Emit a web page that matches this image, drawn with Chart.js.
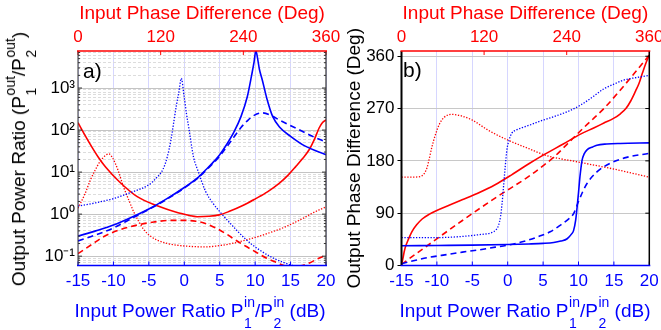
<!DOCTYPE html>
<html><head><meta charset="utf-8">
<script src="https://cdn.jsdelivr.net/npm/chart.js@4.4.1/dist/chart.umd.min.js"></script>
<style>
html,body{margin:0;padding:0;background:#fff;}
body{width:661px;height:330px;position:relative;overflow:hidden;font-family:'Liberation Sans',Arial,sans-serif;}
canvas{position:absolute;top:0;}
.t{position:absolute;white-space:nowrap;font-size:19px;line-height:22px;}
.ss{display:inline-flex;flex-direction:column;vertical-align:10px;font-size:14px;line-height:21px;margin-left:0.5px;}
.ss span{display:block;}
.lab{position:absolute;font-size:21px;line-height:21px;color:#000;}
</style></head>
<body>
<canvas id="ca" width="345" height="330" style="left:0"></canvas>
<canvas id="cb" width="331" height="330" style="left:330px"></canvas>
<div class="t" style="color:#00f;left:200px;top:292px;transform:translateX(-50%)">Input Power Ratio P<span class="ss"><span>in</span><span>1</span></span>/P<span class="ss"><span>in</span><span>2</span></span> (dB)</div>
<div class="t" style="color:#00f;left:525px;top:292px;transform:translateX(-50%)">Input Power Ratio P<span class="ss"><span>in</span><span>1</span></span>/P<span class="ss"><span>in</span><span>2</span></span> (dB)</div>
<div class="t" style="color:#000;left:21px;top:159px;transform:translate(-50%,-50%) rotate(-90deg)">Output Power Ratio (P<span class="ss"><span>out</span><span>1</span></span>/P<span class="ss"><span>out</span><span>2</span></span>)</div>
<div class="lab" style="left:83px;top:60px">a)</div>
<div class="lab" style="left:403px;top:59px">b)</div>
<script>
// ---------------- tick labels ----------------
const dbTicks = [-15, -10, -5, 0, 5, 10, 15, 20];
const phaseTicks = [0, 120, 240, 360];
const ratioDecades = [0.1, 1, 10, 100, 1000];
const phaseOutTicks = [0, 90, 180, 270, 360];

// ---------------- panel a) : output power ratio ----------------
// blue curves vs input power ratio (dB)
const aBlueSolidDb = [-15,-12.5,-10,-7.5,-5,-2.5,0,2,3,4,5,6,7,8,8.9,9.5,9.85,10.1,10.35,10.6,11,11.7,12.45,13.5,15,17,20];
const aBlueSolidRatio = [0.30,0.40,0.55,0.83,1.32,2.3,4.3,7.6,11.2,16.6,26,46,89,209,630,2000,4170,7900,5000,2800,1580,525,214,115,71,42,26];
const aBlueDashedDb = [-15,-12.5,-10,-7.5,-5,-2.5,0,2,3,4,5,6,7,8,8.9,9.85,11,12.45,13.4,15.8,18,20];
const aBlueDashedRatio = [0.23,0.32,0.47,0.78,1.29,2.24,4.2,7.4,10.7,15.8,24,40,68,115,166,224,257,214,174,110,72,52];
const aBlueDottedDb = [-15,-12.5,-10,-7.5,-5,-4,-3,-2.4,-1.9,-1.47,-1.1,-0.76,-0.42,-0.05,0.3,0.65,1.3,2,3,4,5,6.5,8.7,10.5,12.5,14,15.3,17,20];
const aBlueDottedRatio = [1.55,1.86,2.34,3.3,5.0,7.1,11.7,23,56,160,400,810,1700,680,250,110,23,10,3.5,1.86,1.15,0.60,0.25,0.145,0.091,0.071,0.060,0.055,0.055];
// red curves vs input phase difference (deg)
const aRedSolidPh = [0,10,20,30,40,60,86,115,144,173,190,205,219,240,258,275,292,305,316,326,336,343,350,355,360];
const aRedSolidRatio = [150,76,40,22,13.2,5.9,2.6,1.58,1.10,0.87,0.89,0.96,1.15,1.62,2.34,3.4,5.4,8.5,13.5,21,35,59,112,151,174];
const aRedDashedPh = [0,20,37,60,86,110,134,154,171,186,200,215,229,243,258,272,287,300,311,322,336,348,360];
const aRedDashedRatio = [0.115,0.19,0.29,0.42,0.55,0.65,0.71,0.71,0.68,0.59,0.47,0.34,0.24,0.174,0.126,0.093,0.072,0.059,0.054,0.058,0.069,0.087,0.105];
const aRedDottedPh = [0,10,18,25,32,40,45,50,58,66,74,81,88,95,105,115,130,144,165,185,200,220,243,262,282,300,316,330,340,350,360];
const aRedDottedRatio = [1.38,3.0,6.5,11.2,17.8,25,27,22,11.2,4.5,2.1,1.12,0.68,0.44,0.30,0.24,0.20,0.182,0.17,0.166,0.174,0.195,0.24,0.295,0.38,0.49,0.65,0.85,1.05,1.26,1.48];

// ---------------- panel b) : output phase difference ----------------
const bBlueSolidDb = [-15,-10,-5,0,3,5,6.5,7.5,8.4,9,9.3,9.6,9.8,10,10.15,10.3,10.5,10.8,11.2,12,12.6,14,15.9,20];
const bBlueSolidDeg = [34,34.5,35,36,37,38,39.5,42,46,54,60,78,100,125,146,163,181,192,199,204,207,209,210,211];
const bBlueDashedDb = [-15,-13,-11.1,-8.5,-6.4,-4,-1.75,0,1.8,3,4.6,6,7.4,8.5,9.3,10,10.6,11.2,12.6,14.5,16.8,20];
const bBlueDashedDeg = [3,9,14,19,23,27,31.6,35,40,44,51,58,69,79,89,110,127,141,161,176,186,193];
const bBlueDottedDb = [-15,-10,-6.4,-4.1,-2.2,-1.6,-1.3,-1,-0.8,-0.56,-0.35,-0.1,0.2,0.6,1.2,2,3.2,4.5,6.5,8.5,10.3,12,13.6,15,16.4,18,20];
const bBlueDottedDeg = [48,48,50,53,57,62,69,85,106,140,170,200,216,228,233,237,242,248,256,265,276,290,304,312,319,323,327];
const bRedSolidPh = [0,2,4,6,10,15,22,30,40,52,70,88,110,136,160,185,209,235,260,280,294,308,318,326,333,340,345,350,355,360];
const bRedSolidDeg = [2,12,24,33,45,58,70,80,88,95,104,113,124,139,156,175,192,209,226,237,245,253,261,270,283,300,313,331,348,362];
const bRedDashedPh = [0,35,88,136,187,206,221,240,262,294,318,342,360];
const bRedDashedDeg = [2,32,77,116,155,172,186,208,234,270,302,336,362];
const bRedDottedPh = [0,15,27,33,37,40,44,49,55,62,73,88,103,127,156,185,211,257,308,360];
const bRedDottedDeg = [152,152,153,158,168,182,203,224,243,255,260,257,250,232,215,201,189,178,166,152];

// ---------------- helpers ----------------
const BLUE = '#0000ff', RED = '#ff0000';
const FONT = "'Liberation Sans', Arial, sans-serif";
Chart.defaults.font.family = FONT;
const supMap = {'-':'\u207B','0':'\u2070','1':'\u00B9','2':'\u00B2','3':'\u00B3','4':'\u2074','5':'\u2075','6':'\u2076','7':'\u2077','8':'\u2078','9':'\u2079'};
const isDecade = v => { const e = Math.log10(v); return Math.abs(e - Math.round(e)) < 1e-6; };
const styles = {
  solid: {borderWidth: 1.6, borderDash: []},
  dashed: {borderWidth: 1.6, borderDash: [6, 4]},
  dotted: {borderWidth: 1.3, borderDash: [1.3, 1.6]}
};
function line(xs, ys, color, style, xAxisID) {
  return Object.assign({
    data: xs.map((x, i) => ({x: x, y: ys[i]})),
    borderColor: color, xAxisID: xAxisID, yAxisID: 'y',
    pointRadius: 0, fill: false, cubicInterpolationMode: 'monotone'
  }, styles[style]);
}
const framePlugin = {
  id: 'frame',
  afterDraw(chart, args, o) {
    const ctx = chart.ctx, a = chart.chartArea;
    const L = a.left, R = a.right, T = a.top, B = a.bottom;
    const seg = (x1, y1, x2, y2, c, w) => { ctx.beginPath(); ctx.strokeStyle = c; ctx.lineWidth = w; ctx.moveTo(x1, y1); ctx.lineTo(x2, y2); ctx.stroke(); };
    ctx.save();
    const ys = chart.scales.y;
    ys.ticks.forEach(t => {
      const py = ys.getPixelForValue(t.value);
      if (py < T + 1 || py > B - 1) return;
      const major = o.log ? isDecade(t.value) : true;
      const len = major ? 4 : 2;
      if (o.innerLeft) seg(L, py, L + len, py, o.sideColor, 1);
      seg(R, py, R - len, py, o.sideColor, 1);
    });
    const xb = chart.scales.x, xt = chart.scales.xTop;
    xb.ticks.forEach(t => { const px = xb.getPixelForValue(t.value); seg(px, B, px, B - 4, BLUE, 1); });
    xt.ticks.forEach(t => { const px = xt.getPixelForValue(t.value); seg(px, T, px, T + 4, RED, 1); });
    seg(L, T, L, B, o.sideColor, o.leftWidth);
    seg(R, T, R, B, o.sideColor, o.rightWidth);
    seg(L - 1, T, R + 1, T, RED, 1.5);
    seg(L - 1, B, R + 1, B, BLUE, 1.5);
    ctx.restore();
  }
};
function xScales(topTitle) {
  return {
    x: {
      type: 'linear', position: 'bottom', min: -15, max: 20,
      afterBuildTicks: s => { s.ticks = dbTicks.map(v => ({value: v})); },
      afterFit: s => { s.height = 64.5; s.paddingLeft = 0; s.paddingRight = 0; },
      ticks: {color: BLUE, font: {size: 17}, padding: 6, autoSkip: false, maxRotation: 0, minRotation: 0},
      grid: {color: 'rgba(0,0,255,0.16)', drawTicks: false},
      border: {display: false}
    },
    xTop: {
      type: 'linear', position: 'top', min: 0, max: 360,
      afterBuildTicks: s => { s.ticks = phaseTicks.map(v => ({value: v})); },
      afterFit: s => { s.height = 51; s.paddingLeft = 0; s.paddingRight = 0; },
      ticks: {color: RED, font: {size: 17}, padding: 3, autoSkip: false, maxRotation: 0, minRotation: 0},
      grid: {drawOnChartArea: false, drawTicks: false},
      border: {display: false},
      title: {display: true, text: topTitle, color: RED, font: {size: 19}, padding: {top: 2, bottom: 0}}
    }
  };
}
const common = {
  responsive: false, animation: false,
  plugins: {legend: {display: false}, tooltip: {enabled: false}}
};

// ---------------- chart a ----------------
new Chart(document.getElementById('ca'), {
  type: 'line',
  data: {datasets: [
    line(aBlueSolidDb, aBlueSolidRatio, BLUE, 'solid', 'x'),
    line(aBlueDashedDb, aBlueDashedRatio, BLUE, 'dashed', 'x'),
    line(aBlueDottedDb, aBlueDottedRatio, BLUE, 'dotted', 'x'),
    line(aRedSolidPh, aRedSolidRatio, RED, 'solid', 'xTop'),
    line(aRedDashedPh, aRedDashedRatio, RED, 'dashed', 'xTop'),
    line(aRedDottedPh, aRedDottedRatio, RED, 'dotted', 'xTop')
  ]},
  options: Object.assign({}, common, {
    layout: {padding: {left: 0, right: 19, top: 0, bottom: 0}},
    plugins: Object.assign({}, common.plugins, {frame: {log: true, sideColor: '#333', leftWidth: 1, rightWidth: 1.2, innerLeft: true}}),
    scales: Object.assign(xScales('Input Phase Difference (Deg)'), {
      y: {
        type: 'logarithmic', min: 0.06, max: 7600,
        afterBuildTicks: s => {
          s.ticks = s.ticks.filter(t => { const m = t.value / Math.pow(10, Math.floor(Math.log10(t.value) + 1e-9)); return Math.abs(m - Math.round(m)) < 1e-6; });
        },
        afterFit: s => { s.width = 78; s.paddingTop = 0; s.paddingBottom = 0; },
        ticks: {
          color: '#000', font: {size: 17}, padding: 3, autoSkip: false,
          callback: v => {
            if (!isDecade(v)) return '';
            const e = Math.round(Math.log10(v));
            if (!ratioDecades.some(d => Math.abs(Math.log10(d) - e) < 1e-6)) return '';
            return '10' + String(e).split('').map(c => supMap[c]).join('');
          }
        },
        grid: {color: c => (c.tick && isDecade(c.tick.value)) ? '#c4c4c4' : '#dcdcdc', drawTicks: false},
        border: {display: false, dash: c => (c.tick && isDecade(c.tick.value)) ? [] : [3, 2]}
      }
    })
  }),
  plugins: [framePlugin]
});

// ---------------- chart b ----------------
new Chart(document.getElementById('cb'), {
  type: 'line',
  data: {datasets: [
    line(bBlueSolidDb, bBlueSolidDeg, BLUE, 'solid', 'x'),
    line(bBlueDashedDb, bBlueDashedDeg, BLUE, 'dashed', 'x'),
    line(bBlueDottedDb, bBlueDottedDeg, BLUE, 'dotted', 'x'),
    line(bRedSolidPh, bRedSolidDeg, RED, 'solid', 'xTop'),
    line(bRedDashedPh, bRedDashedDeg, RED, 'dashed', 'xTop'),
    line(bRedDottedPh, bRedDottedDeg, RED, 'dotted', 'xTop')
  ]},
  options: Object.assign({}, common, {
    layout: {padding: {left: 0, right: 11.7, top: 0, bottom: 0}},
    plugins: Object.assign({}, common.plugins, {frame: {log: false, sideColor: '#000', leftWidth: 2, rightWidth: 1.5, innerLeft: false}}),
    scales: Object.assign(xScales('Input Phase Difference (Deg)'), {
      y: {
        type: 'linear', min: 0, max: 369,
        afterBuildTicks: s => { s.ticks = phaseOutTicks.map(v => ({value: v})); },
        afterFit: s => { s.width = 71.5; s.paddingTop = 0; s.paddingBottom = 0; },
        ticks: {color: '#000', font: {size: 17}, padding: 3, autoSkip: false},
        grid: {color: '#c8c8c8', drawTicks: true, tickLength: 4, tickColor: '#000'},
        border: {display: false},
        title: {display: true, text: 'Output Phase Difference (Deg)', color: '#000', font: {size: 19}, padding: {top: 13.5, bottom: 0}}
      }
    })
  }),
  plugins: [framePlugin]
});
</script>
</body></html>
